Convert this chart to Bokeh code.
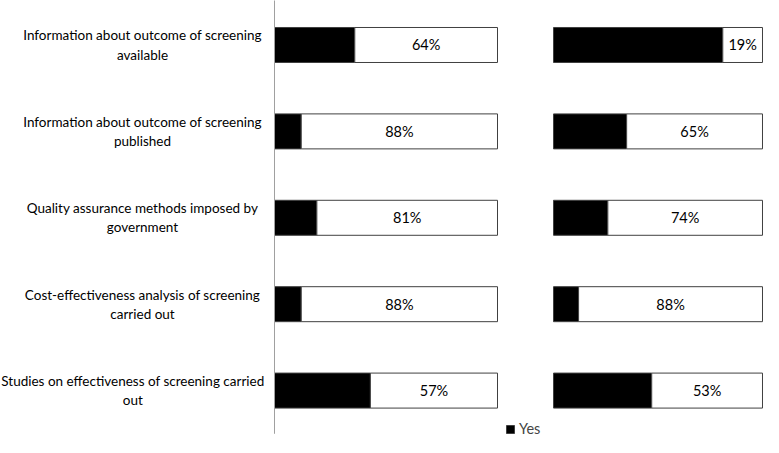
from bokeh.plotting import figure
from bokeh.models import Range1d, ColumnDataSource, Legend, LegendItem
from bokeh.core.properties import value
from bokeh.embed import file_html
from bokeh.resources import INLINE

categories = [
    "Information about outcome of screening\navailable",
    "Information about outcome of screening\npublished",
    "Quality assurance methods imposed by\ngovernment",
    "Cost-effectiveness analysis of screening\ncarried out",
    "Studies on effectiveness of screening carried\nout",
]
left_yes = [36, 12, 19, 12, 43]
left_no = [64, 88, 81, 88, 57]
right_yes = [81, 35, 26, 12, 47]
right_no = [19, 65, 74, 88, 53]

FONT = "Lato"
idx = list(range(len(categories)))

p = figure(width=763, height=437, output_backend="svg", toolbar_location=None,
           x_range=Range1d(-122.87, 219.28), y_range=Range1d(4.543, -0.515),
           min_border=0, outline_line_color=None)
p.extra_x_ranges = {"right": Range1d(-264.6, 100.48)}
p.xaxis.visible = False
p.yaxis.visible = False
p.grid.visible = False

def panel(yes, no, rname):
    src = ColumnDataSource(dict(y=idx, yes=yes, no=no,
                                tot=[a + b for a, b in zip(yes, no)],
                                mid=[a + b / 2 for a, b in zip(yes, no)],
                                lab=[f"{b}%" for b in no]))
    r_yes = p.hbar(y="y", left=0, right="yes", height=0.405, source=src,
                   fill_color="black", line_color="#404040", line_width=1,
                   x_range_name=rname)
    p.hbar(y="y", left="yes", right="tot", height=0.405, source=src,
           fill_color="white", line_color="#404040", line_width=1,
           x_range_name=rname)
    p.text(x="mid", y="y", text="lab", source=src, text_align="center",
           text_baseline="middle", text_font=value(FONT), text_font_size="14.5px",
           text_color="black", x_range_name=rname)
    return r_yes

r_yes = panel(left_yes, left_no, "default")
panel(right_yes, right_no, "right")

# axis line of the left panel
p.segment(x0=[0], y0=[-0.6], x1=[0], y1=[len(categories) - 0.5],
          line_color="#a0a0a0", line_width=1)

label_x = [-59.2, -59.2, -59.2, -59.2, -63.5]
lab_src = ColumnDataSource(dict(y=idx, t=categories, x=label_x))
p.text(x="x", y="y", text="t", source=lab_src, text_align="center",
       text_baseline="middle", text_font=value(FONT), text_font_size="13.5px",
       text_color="black", text_line_height=1.2)

legend = Legend(items=[LegendItem(label="Yes", renderers=[r_yes])],
                location=(505, 0), orientation="horizontal",
                background_fill_alpha=0, border_line_color=None,
                label_text_font=FONT, label_text_font_size="14.5px",
                glyph_width=10, glyph_height=10, label_standoff=4,
                padding=0, margin=0, label_height=14)
p.add_layout(legend)

open("out.html", "w").write(file_html(p, INLINE))
